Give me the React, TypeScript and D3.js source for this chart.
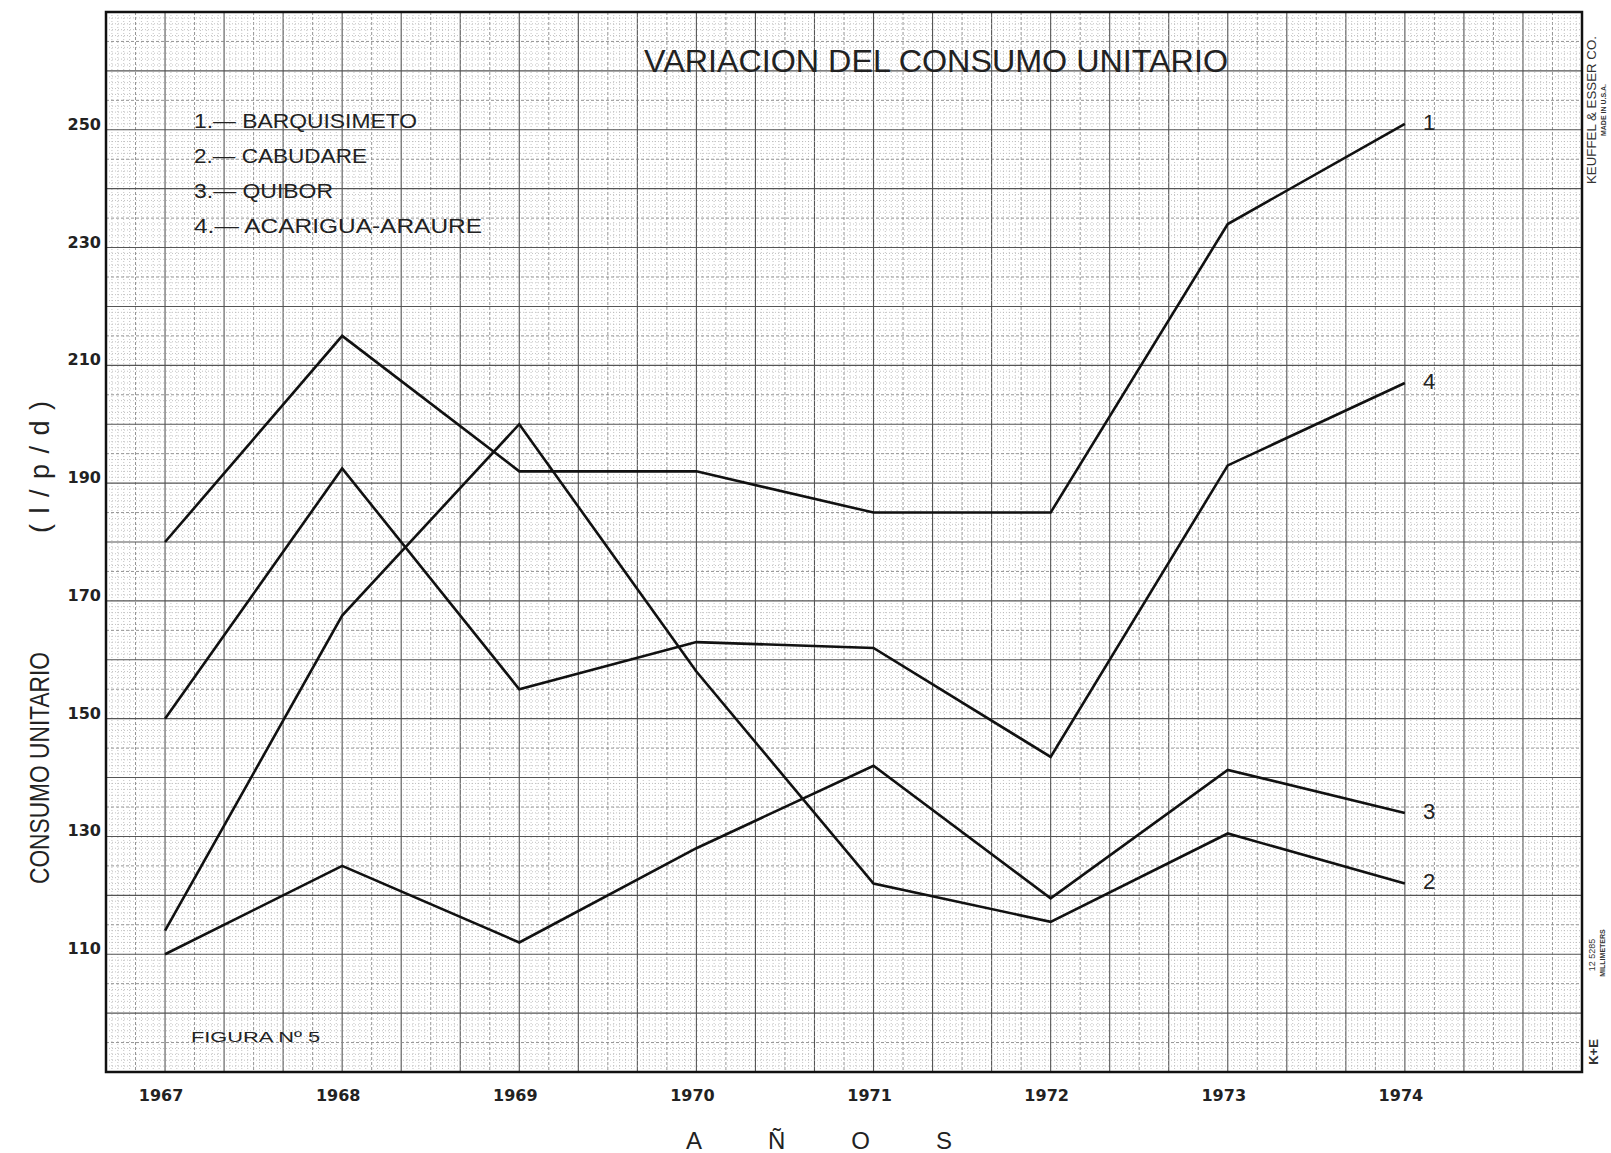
import { useEffect, useRef } from 'react';
import * as d3 from 'd3';

const YEARS = [1967, 1968, 1969, 1970, 1971, 1972, 1973, 1974];
const BARQUISIMETO = [180, 215, 192, 192, 185, 185, 234, 251];
const CABUDARE = [114, 167.5, 200, 158, 122, 115.5, 130.5, 122];
const QUIBOR = [110, 125, 112, 128, 142, 119.5, 141.3, 134];
const ACARIGUA = [150, 192.5, 155, 163, 162, 143.5, 193, 207];
const SERIES_KEYS = ['1', '2', '3', '4'];
const SERIES_NAMES = ['BARQUISIMETO', 'CABUDARE', 'QUIBOR', 'ACARIGUA-ARAURE'];
const Y_TICKS = [250, 230, 210, 190, 170, 150, 130, 110];

export default function App() {
  const svgRef = useRef<SVGSVGElement>(null);

  useEffect(() => {
    document.body.style.margin = '0';
    if (!svgRef.current) return;

    const width = 1611;
    const height = 1153;
    const left = 106, right = 1582, top = 12, bottom = 1072;

    const svg = d3.select(svgRef.current);
    svg.selectAll('*').remove();
    svg.attr('width', width).attr('height', height).attr('viewBox', `0 0 ${width} ${height}`);

    svg.append('rect').attr('width', width).attr('height', height).attr('fill', '#fff');

    const xStart = 1967 - 1 / 3;
    const x = d3.scaleLinear().domain([xStart, 1975]).range([left, right]);
    const y = d3.scaleLinear().domain([90, 270]).range([bottom, top]);

    // === grid paper ===
    const grid = svg.append('g');
    const gridStyle = (i: number) =>
      i % 10 === 0
        ? { c: '#555', w: 1.1, d: '' }
        : i % 5 === 0
        ? { c: '#888', w: 0.9, d: '3 2' }
        : { c: '#b4b4b4', w: 0.8, d: '1 2' };

    d3.range(0, 251).forEach((i) => {
      const s = gridStyle(i);
      const px = x(xStart + i / 30);
      grid.append('line')
        .attr('x1', px).attr('x2', px)
        .attr('y1', top).attr('y2', bottom)
        .attr('stroke', s.c).attr('stroke-width', s.w)
        .attr('stroke-dasharray', s.d);
    });
    d3.range(0, 181).forEach((i) => {
      const s = gridStyle(i);
      const py = y(90 + i);
      grid.append('line')
        .attr('x1', left).attr('x2', right)
        .attr('y1', py).attr('y2', py)
        .attr('stroke', s.c).attr('stroke-width', s.w)
        .attr('stroke-dasharray', s.d);
    });

    svg.append('rect')
      .attr('x', left).attr('y', top)
      .attr('width', right - left).attr('height', bottom - top)
      .attr('fill', 'none').attr('stroke', '#111').attr('stroke-width', 2.5);

    // === axis labels ===
    Y_TICKS.forEach((v) => {
      svg.append('text')
        .attr('x', 101).attr('y', y(v))
        .attr('text-anchor', 'end')
        .attr('font-family', 'DejaVu Sans')
        .attr('font-weight', 'bold')
        .attr('font-size', 16)
        .attr('fill', '#222')
        .text(v);
    });

    YEARS.forEach((yr) => {
      svg.append('text')
        .attr('x', x(yr) - 4).attr('y', 1101)
        .attr('text-anchor', 'middle')
        .attr('font-family', 'DejaVu Sans')
        .attr('font-weight', 'bold')
        .attr('font-size', 16)
        .attr('fill', '#222')
        .text(yr);
    });

    svg.append('text')
      .attr('x', 686).attr('y', 1149)
      .attr('font-family', 'Liberation Sans')
      .attr('font-size', 24)
      .attr('letter-spacing', 66)
      .attr('fill', '#222')
      .text('AÑOS');

    svg.append('text')
      .attr('transform', 'translate(49,768) rotate(-90)')
      .attr('text-anchor', 'middle')
      .attr('font-family', 'Liberation Sans')
      .attr('font-size', 27)
      .attr('textLength', 232).attr('lengthAdjust', 'spacingAndGlyphs')
      .attr('fill', '#222')
      .text('CONSUMO UNITARIO');

    svg.append('text')
      .attr('transform', 'translate(49,467) rotate(-90)')
      .attr('text-anchor', 'middle')
      .attr('font-family', 'Liberation Sans')
      .attr('font-size', 27)
      .attr('textLength', 132).attr('lengthAdjust', 'spacing')
      .attr('fill', '#222')
      .text('(l/p/d)');

    // === title + legend ===
    svg.append('text')
      .attr('x', 644).attr('y', 72)
      .attr('font-family', 'Liberation Sans')
      .attr('font-size', 32)
      .attr('textLength', 584).attr('lengthAdjust', 'spacingAndGlyphs')
      .attr('fill', '#222')
      .text('VARIACION  DEL  CONSUMO  UNITARIO');

    const legendWidths = [223, 173, 139, 288];
    SERIES_NAMES.forEach((name, i) => {
      svg.append('text')
        .attr('x', 194).attr('y', 128 + i * 35)
        .attr('font-family', 'Liberation Sans')
        .attr('font-size', 21)
        .attr('textLength', legendWidths[i]).attr('lengthAdjust', 'spacingAndGlyphs')
        .attr('fill', '#222')
        .text(`${SERIES_KEYS[i]}.— ${name}`);
    });

    svg.append('text')
      .attr('x', 191).attr('y', 1042)
      .attr('font-family', 'Liberation Sans')
      .attr('font-size', 15)
      .attr('textLength', 129).attr('lengthAdjust', 'spacingAndGlyphs')
      .attr('fill', '#222')
      .text('FIGURA  Nº 5');

    // === series lines ===
    const allSeries = [BARQUISIMETO, CABUDARE, QUIBOR, ACARIGUA];
    const line = d3.line<number>()
      .x((_, i) => x(YEARS[i]))
      .y((d) => y(d));

    allSeries.forEach((vals, k) => {
      svg.append('path')
        .attr('d', line(vals) as string)
        .attr('fill', 'none')
        .attr('stroke', '#111')
        .attr('stroke-width', 2.6)
        .attr('stroke-linejoin', 'miter');

      svg.append('text')
        .attr('x', x(YEARS[YEARS.length - 1]) + 18)
        .attr('y', y(vals[vals.length - 1]))
        .attr('dominant-baseline', 'middle')
        .attr('font-family', 'Liberation Sans')
        .attr('font-size', 22)
        .attr('fill', '#222')
        .text(SERIES_KEYS[k]);
    });

    // === paper maker marks ===
    svg.append('text')
      .attr('transform', 'translate(1596,110) rotate(-90)')
      .attr('text-anchor', 'middle')
      .attr('font-family', 'Liberation Sans')
      .attr('font-size', 12)
      .attr('textLength', 148).attr('lengthAdjust', 'spacingAndGlyphs')
      .attr('fill', '#333')
      .text('KEUFFEL & ESSER CO.');
    svg.append('text')
      .attr('transform', 'translate(1606,110) rotate(-90)')
      .attr('text-anchor', 'middle')
      .attr('font-family', 'Liberation Sans')
      .attr('font-weight', 'bold')
      .attr('font-size', 7)
      .attr('fill', '#333')
      .text('MADE IN U.S.A.');
    svg.append('text')
      .attr('transform', 'translate(1595,955) rotate(-90)')
      .attr('text-anchor', 'middle')
      .attr('font-family', 'Liberation Sans')
      .attr('font-size', 9)
      .attr('fill', '#333')
      .text('12 5285');
    svg.append('text')
      .attr('transform', 'translate(1605,953) rotate(-90)')
      .attr('text-anchor', 'middle')
      .attr('font-family', 'Liberation Sans')
      .attr('font-weight', 'bold')
      .attr('font-size', 7)
      .attr('fill', '#333')
      .text('MILLIMETERS');
    svg.append('text')
      .attr('transform', 'translate(1598,1052) rotate(-90)')
      .attr('text-anchor', 'middle')
      .attr('font-family', 'Liberation Sans')
      .attr('font-weight', 'bold')
      .attr('font-size', 13)
      .attr('fill', '#333')
      .text('K+E');
  }, []);

  return <svg ref={svgRef} style={{ display: 'block' }} />;
}
